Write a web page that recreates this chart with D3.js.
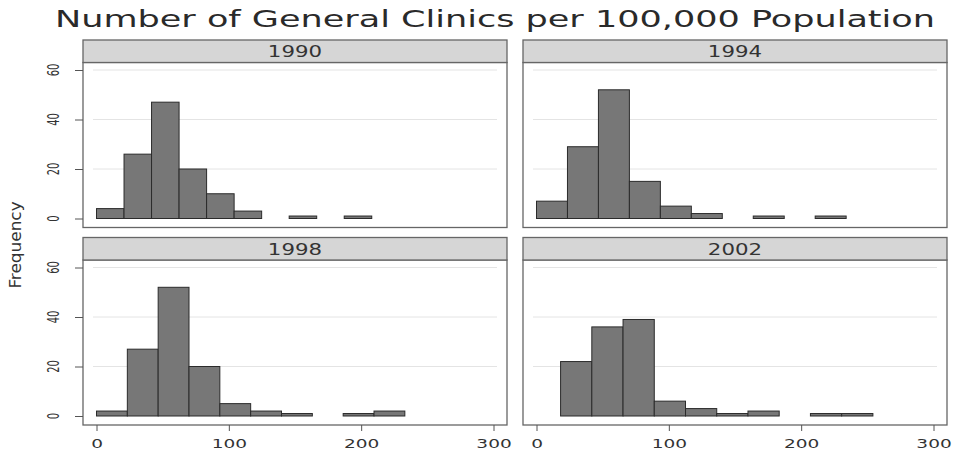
<!DOCTYPE HTML>
<html lang="en">

<head>
  <meta charset="utf-8">
  <title>General Clinics</title>
  <script src="https://d3js.org/d3.v7.min.js"></script>
  <style>
    body { margin: 0; background: #fff; }
    text { font-family: "DejaVu Sans", sans-serif; fill: #333; }
  </style>
</head>

<body>
  <div id="stage"></div>

  <script>
    // one histogram per year, bins
    var years = ["1990", "1994", "1998", "2002"];
    var binStart = [0, 0, 0, 18.2];
    var binWidth = [20.8, 23.4, 23.3, 23.6];
    var counts1990 = [4, 26, 47, 20, 10, 3, 0, 1, 0, 1];
    var counts1994 = [7, 29, 52, 15, 5, 2, 0, 1, 0, 1];
    var counts1998 = [2, 27, 52, 20, 5, 2, 1, 0, 1, 2];
    var counts2002 = [22, 36, 39, 6, 3, 1, 2, 0, 1, 1];
    var counts = [counts1990, counts1994, counts1998, counts2002];
    var xTicks = [0, 100, 200, 300];
    var yTicks = [0, 20, 40, 60];

    var svg = d3.select("#stage").append("svg")
      .attr("width", 957).attr("height", 452);

    // the original picture is stretched sideways, so text is too
    function stretch(sel, k) {
      sel.each(function () {
        var w = this.getComputedTextLength();
        d3.select(this).attr("textLength", w * k).attr("lengthAdjust", "spacingAndGlyphs");
      });
    }

    svg.append("text")
      .attr("x", 495).attr("y", 27)
      .attr("text-anchor", "middle")
      .style("font-size", "23px").style("fill", "#2a2a2a")
      .text("Number of General Clinics per 100,000 Population")
      .attr("textLength", 880).attr("lengthAdjust", "spacingAndGlyphs");

    svg.append("text")
      .attr("transform", "translate(18,245) rotate(-90) scale(1.3,1.2)")
      .attr("text-anchor", "middle").attr("dy", "0.2em")
      .style("font-size", "13px")
      .text("Frequency");

    var colX = [83, 523], rowY = [40, 237.5];
    var pw = 424, hh = 22.5, ph = 165;

    years.forEach(function (year, p) {
      var col = p % 2, row = Math.floor(p / 2);
      var px = colX[col], hy = rowY[row];
      var top = hy + hh, bottom = top + ph;

      var x = d3.scaleLinear().domain([0, 300]).range([px + 13.5, px + pw - 13.5]);
      var y = d3.scaleLinear().domain([0, 60]).range([bottom - 9, top + 7.5]);
      var g = svg.append("g");

      g.selectAll(".grid").data(yTicks.slice(1)).enter().append("line")
        .attr("x1", px + 10).attr("x2", px + pw - 10)
        .attr("y1", function (d) { return y(d); })
        .attr("y2", function (d) { return y(d); })
        .style("stroke", "#e4e4e4").style("stroke-width", 1);

      var bins = counts[p].map(function (c, i) {
        return { x0: binStart[p] + i * binWidth[p], x1: binStart[p] + (i + 1) * binWidth[p], n: c };
      }).filter(function (b) { return b.n > 0; });

      g.selectAll(".bar").data(bins).enter().append("rect")
        .attr("x", function (d) { return x(d.x0); })
        .attr("width", function (d) { return x(d.x1) - x(d.x0); })
        .attr("y", function (d) { return y(d.n); })
        .attr("height", function (d) { return y(0) - y(d.n); })
        .style("fill", "#777").style("stroke", "#2b2b2b").style("stroke-width", 1);

      g.append("rect")
        .attr("x", px).attr("y", top).attr("width", pw).attr("height", ph)
        .style("fill", "none").style("stroke", "#666").style("stroke-width", 1.3);

      g.append("rect")
        .attr("x", px).attr("y", hy).attr("width", pw).attr("height", hh)
        .style("fill", "#d6d6d6").style("stroke", "#666").style("stroke-width", 1.3);

      g.append("text")
        .attr("x", px + pw / 2).attr("y", hy + 17)
        .attr("text-anchor", "middle")
        .style("font-size", "15px")
        .text(year)
        .call(stretch, 1.42);

      if (col == 0) {
        var ya = g.append("g").attr("transform", "translate(" + px + ",0)")
          .call(d3.axisLeft(y).tickValues(yTicks).tickSize(8).tickFormat(""));
        ya.select(".domain").remove();
        ya.selectAll("line").style("stroke", "#555");
        g.selectAll(".ylab").data(yTicks).enter().append("text")
          .attr("transform", function (d) { return "translate(53," + y(d) + ") rotate(-90) scale(0.9,1.45)"; })
          .attr("text-anchor", "middle").attr("dy", "0.35em")
          .style("font-size", "11px")
          .text(function (d) { return d; });
      }

      if (row == 1) {
        var xa = g.append("g").attr("transform", "translate(0," + bottom + ")")
          .call(d3.axisBottom(x).tickValues(xTicks).tickSize(6).tickPadding(8));
        xa.select(".domain").remove();
        xa.selectAll("line").style("stroke", "#555");
        xa.selectAll("text")
          .style("font-size", "12.5px").style("font-family", "DejaVu Sans").style("fill", "#333")
          .call(stretch, 1.48);
      }
    });
  </script>

</body>

</html>
